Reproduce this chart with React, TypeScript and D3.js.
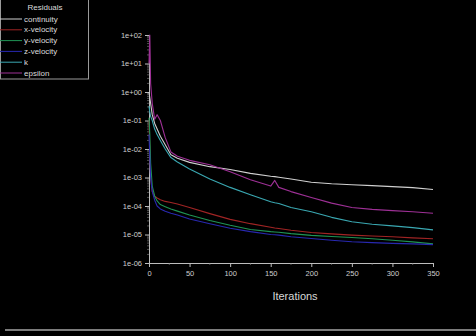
import React, { useEffect, useRef } from 'react';
import * as d3 from 'd3';

const iterations = [0, 1, 2, 4, 7, 10, 14, 20, 27, 35, 50, 75, 100, 125, 150, 155, 160, 175, 200, 225, 250, 275, 300, 325, 350];

const continuity = [1, 0.63, 0.4, 0.16, 0.079, 0.05, 0.028, 0.014, 6.3e-3, 4.7e-3, 3.4e-3, 2.4e-3, 1.9e-3, 1.4e-3, 1.1e-3, 1.07e-3, 1.02e-3, 8.9e-4, 6.8e-4, 6.0e-4, 5.6e-4, 5.2e-4, 4.8e-4, 4.4e-4, 3.8e-4];
const xVelocity = [0.1, 0.01, 1.0e-3, 3.2e-4, 2.2e-4, 1.9e-4, 1.66e-4, 1.45e-4, 1.32e-4, 1.17e-4, 8.9e-5, 5.4e-5, 3.4e-5, 2.4e-5, 1.8e-5, 1.7e-5, 1.62e-5, 1.41e-5, 1.17e-5, 1.05e-5, 9.5e-6, 8.9e-6, 8.3e-6, 7.6e-6, 7.1e-6];
const yVelocity = [0.126, 0.032, 3.2e-3, 5.0e-4, 2.2e-4, 1.5e-4, 1.12e-4, 9.5e-5, 7.9e-5, 6.6e-5, 4.8e-5, 3.1e-5, 2.1e-5, 1.5e-5, 1.26e-5, 1.23e-5, 1.2e-5, 1.07e-5, 9.3e-6, 8.5e-6, 7.8e-6, 7.1e-6, 6.3e-6, 5.5e-6, 4.7e-6];
const zVelocity = [0.032, 5.0e-3, 1.0e-3, 3.2e-4, 1.6e-4, 1.0e-4, 7.9e-5, 6.6e-5, 5.6e-5, 4.8e-5, 3.5e-5, 2.4e-5, 1.66e-5, 1.26e-5, 1.0e-5, 9.8e-6, 9.5e-6, 8.3e-6, 7.2e-6, 6.3e-6, 5.6e-6, 5.2e-6, 4.9e-6, 4.7e-6, 4.4e-6];
const kValues = [0.32, 0.2, 0.14, 0.1, 0.05, 0.032, 0.02, 0.01, 5.0e-3, 3.5e-3, 2.0e-3, 8.9e-4, 4.5e-4, 2.5e-4, 1.4e-4, 1.3e-4, 1.23e-4, 8.9e-5, 6.3e-5, 4.0e-5, 2.8e-5, 2.3e-5, 2.0e-5, 1.74e-5, 1.45e-5];
const epsilon = [10, 100, 2.0, 0.4, 0.11, 0.16, 0.1, 0.025, 7.9e-3, 5.6e-3, 4.0e-3, 2.8e-3, 1.6e-3, 8.3e-4, 5.0e-4, 7.9e-4, 4.5e-4, 3.2e-4, 2.0e-4, 1.26e-4, 8.9e-5, 7.6e-5, 6.9e-5, 6.3e-5, 5.6e-5];

const seriesNames = ['continuity', 'x-velocity', 'y-velocity', 'z-velocity', 'k', 'epsilon'];
const seriesValues = [continuity, xVelocity, yVelocity, zVelocity, kValues, epsilon];
const seriesColors = ['#d0d0d0', '#a02424', '#1f9455', '#2828b0', '#3aa8b2', '#9e3096'];

const yTickValues = [1e2, 1e1, 1e0, 1e-1, 1e-2, 1e-3, 1e-4, 1e-5, 1e-6];
const yTickLabels = ['1e+02', '1e+01', '1e+00', '1e-01', '1e-02', '1e-03', '1e-04', '1e-05', '1e-06'];
const xTickValues = [0, 50, 100, 150, 200, 250, 300, 350];

export default function App() {
    const ref = useRef<SVGSVGElement>(null);

    useEffect(() => {
        const W = 476, H = 336;
        const left = 149, right = 433, top = 35, bottom = 263;
        const font = "'Liberation Sans Narrow', 'Liberation Sans', Arial, sans-serif";

        const svg = d3.select(ref.current);
        svg.selectAll('*').remove();

        svg.append('rect').attr('width', W).attr('height', H).attr('fill', '#000');

        const x = d3.scaleLinear().domain([0, 350]).range([left, right]);
        const y = d3.scaleLog().domain([1e-6, 1e2]).range([bottom, top]);

        // axes
        const axisColor = '#bdbdbd';
        const yAxis = svg.append('g')
            .attr('transform', `translate(${left},0)`)
            .call(d3.axisLeft(y).tickValues(yTickValues)
                .tickFormat((_, i) => yTickLabels[i]).tickSize(4).tickPadding(3));
        yAxis.select('.domain').attr('stroke', axisColor);
        yAxis.selectAll('line').attr('stroke', axisColor);
        yAxis.selectAll('text').attr('fill', '#cfcfcf').style('font-family', font).style('font-size', '7.5px');

        // minor y ticks
        const minorY: number[] = [];
        for (let e = -6; e < 2; e++) {
            [2, 3, 4, 5, 6, 7, 8, 9].forEach(m => minorY.push(m * Math.pow(10, e)));
        }
        svg.append('g').selectAll('line').data(minorY).enter().append('line')
            .attr('x1', left - 2).attr('x2', left)
            .attr('y1', d => y(d)).attr('y2', d => y(d))
            .attr('stroke', '#8a8a8a').attr('stroke-width', 0.6);

        const xAxis = svg.append('g')
            .attr('transform', `translate(0,${bottom})`)
            .call(d3.axisBottom(x).tickValues(xTickValues).tickFormat(d3.format('d')).tickSize(4).tickPadding(4));
        xAxis.select('.domain').attr('stroke', axisColor);
        xAxis.selectAll('line').attr('stroke', axisColor);
        xAxis.selectAll('text').attr('fill', '#cfcfcf').style('font-family', font).style('font-size', '7.5px');

        svg.append('g').selectAll('line').data(d3.range(25, 350, 50)).enter().append('line')
            .attr('x1', d => x(d)).attr('x2', d => x(d))
            .attr('y1', bottom).attr('y2', bottom + 2)
            .attr('stroke', '#8a8a8a').attr('stroke-width', 0.6);

        svg.append('text')
            .attr('x', 295).attr('y', 300)
            .attr('text-anchor', 'middle')
            .attr('fill', '#d8d8d8')
            .style('font-family', font).style('font-size', '11px')
            .text('Iterations');

        // residual lines
        const line = d3.line<number>()
            .x((_, i) => x(iterations[i]))
            .y(d => y(d));

        seriesValues.forEach((vals, s) => {
            svg.append('path')
                .datum(vals)
                .attr('d', line)
                .attr('fill', 'none')
                .attr('stroke', seriesColors[s])
                .attr('stroke-width', 1.1)
                .attr('stroke-linejoin', 'round');
        });

        // legend
        const legend = svg.append('g');
        legend.append('rect')
            .attr('x', 0.5).attr('y', -1).attr('width', 88).attr('height', 80)
            .attr('fill', '#000').attr('stroke', '#9a9a9a').attr('stroke-width', 1);
        legend.append('text')
            .attr('x', 45).attr('y', 10)
            .attr('text-anchor', 'middle')
            .attr('fill', '#dcdcdc')
            .style('font-family', font).style('font-size', '8px')
            .text('Residuals');
        seriesNames.forEach((name, i) => {
            const ly = 19 + i * 10.8;
            legend.append('line')
                .attr('x1', 0).attr('x2', 22).attr('y1', ly).attr('y2', ly)
                .attr('stroke', seriesColors[i]).attr('stroke-width', 1);
            legend.append('text')
                .attr('x', 24).attr('y', ly + 2.5)
                .attr('fill', '#dcdcdc')
                .style('font-family', font).style('font-size', '8px')
                .text(name);
        });

        // bottom frame bar
        svg.append('line')
            .attr('x1', 5).attr('x2', W).attr('y1', 330).attr('y2', 330)
            .attr('stroke', '#7c7c7c').attr('stroke-width', 2);
    }, []);

    return (
        <svg ref={ref} width={476} height={336}
            style={{ position: 'absolute', left: 0, top: 0, display: 'block' }} />
    );
}
